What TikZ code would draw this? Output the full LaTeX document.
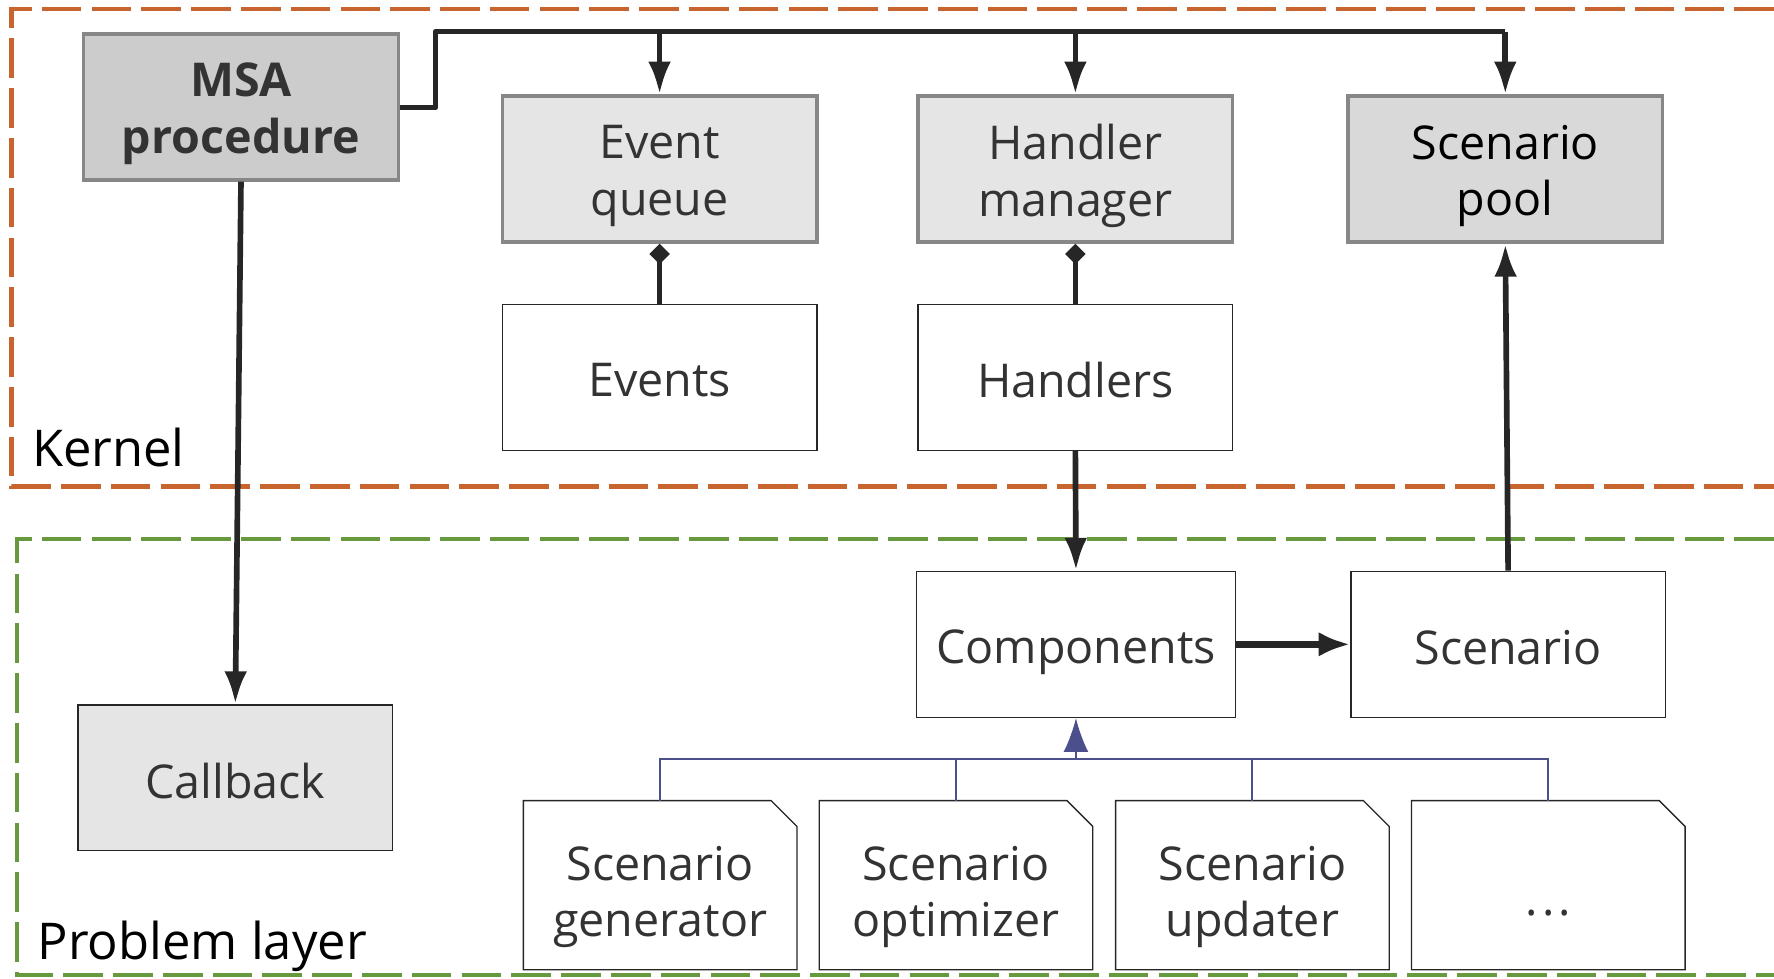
\documentclass[tikz,border=0pt]{standalone}
\usepackage{fontspec}
\setmainfont{Open Sans}
\usetikzlibrary{arrows.meta}
\definecolor{kern}{HTML}{C8652F}
\definecolor{prob}{HTML}{67993F}
\definecolor{inh}{HTML}{4B4F8C}
\definecolor{ink}{HTML}{262626}
\definecolor{txt}{HTML}{333333}
\tikzset{
  boxbase/.style={rectangle, minimum width=139pt, minimum height=64.5pt, inner sep=0pt},
  graybox/.style={boxbase, draw=black!47, line width=1.5pt},
  plainbox/.style={boxbase, draw=ink, line width=0.6pt, fill=white},
  docbox/.style={boxbase, minimum width=120.5pt, minimum height=74.3pt},
  txtlbl/.style={font=\fontsize{20.6}{25}\selectfont, text=txt, align=center, inner sep=0pt, yshift=-1.25pt},
  twolbl/.style={txtlbl, yshift=-1.75pt},
  doclbl/.style={txtlbl, yshift=-4pt},
  conn/.style={draw=ink, line width=2.5pt},
  tip/.style={-{Latex[length=14.5pt,width=10pt]}},
  dia/.style={{Diamond[length=9pt,width=9pt]}-},
  frame/.style={line width=2pt, dash pattern=on 17.5pt off 4.5pt},
  lbl/.style={font=\fontsize{22.4}{26}\selectfont, text=black, anchor=base west, inner sep=0pt}
}
\begin{document}
\begin{tikzpicture}[x=0.5pt,y=-0.5pt]
\useasboundingbox (0,0) rectangle (1568,865.3);
% frames
\draw[frame, kern] (1700,8) -- (10,8) -- (10,430) -- (1700,430);
\draw[frame, prob, line width=1.75pt] (1700,476) -- (15,476) -- (15,862) -- (1700,862);
\node[lbl] (kl) at (28,412) {Kernel};
\node[lbl] (pl) at (33,848) {Problem layer};
% kernel boxes
\node[graybox, fill=black!20, label={[twolbl, font=\fontsize{20.6}{25}\selectfont\bfseries]center:{MSA\\procedure}}] (msa) at (213,94.5) {};
\node[graybox, fill=black!10, label={[twolbl]center:{Event\\queue}}] (eq) at (583,149.5) {};
\node[graybox, fill=black!10, label={[twolbl]center:{Handler\\manager}}] (hm) at (950.5,149.5) {};
\node[graybox, fill=black!15, label={[twolbl, text=black]center:{Scenario\\pool}}] (sp) at (1330.5,149.5) {};
\node[plainbox, label={[txtlbl]center:{Events}}] (ev) at (583,333.5) {};
\node[plainbox, label={[txtlbl]center:{Handlers}}] (hd) at (950.5,333.5) {};
% problem layer boxes
\node[plainbox, minimum width=141pt, label={[txtlbl, yshift=-2.4pt]center:{Components}}] (cp) at (951,569.5) {};
\node[plainbox, label={[txtlbl]center:{Scenario}}] (sc) at (1333,569.5) {};
\node[plainbox, fill=black!10, label={[txtlbl]center:{Callback}}] (cb) at (208,687.5) {};
\node[docbox, label={[doclbl]center:{Scenario\\generator}}] (d1) at (583.5,782.4) {};
\node[docbox, label={[doclbl]center:{Scenario\\optimizer}}] (d2) at (845,782.4) {};
\node[docbox, label={[doclbl]center:{Scenario\\updater}}] (d3) at (1107,782.4) {};
\node[docbox, label={[txtlbl, yshift=-5pt]center:{\vphantom{E}.\kern1.8pt.\kern1.8pt.}}] (d4) at (1368.5,782.4) {};
\foreach \d in {d1,d2,d3,d4}{
  \draw[ink, line width=0.6pt] (\d.north west) -- ([xshift=-11.4pt]\d.north east)
    -- ([yshift=-11.4pt]\d.north east) -- (\d.south east) -- (\d.south west) -- cycle;
}
% bus from MSA
\coordinate (b0) at (385,95);
\coordinate (b1) at (385,28);
\coordinate (b2) at (1330.5,28);
\draw[conn, line join=round] (msa.east |- b0) -- (b0) -- (b1) -- (b2);
\draw[conn, tip] (eq.north |- b1) -- (eq.north);
\draw[conn, tip] (hm.north |- b1) -- (hm.north);
\draw[conn, tip] (b2) -- (sp.north);
% other connectors
\draw[conn, tip] (msa.south) -- (cb.north);
\draw[conn, dia] (eq.south) -- (ev.north);
\draw[conn, dia] (hm.south) -- (hd.north);
\draw[conn, tip] (hd.south) -- (cp.north);
\draw[conn, tip] (sc.north) -- (sp.south);
\draw[conn, line width=3pt, -{Latex[length=14pt,width=11pt]}] (cp.east) -- (sc.west);
% inheritance tree
\coordinate (tj) at (951,671);
\draw[inh, line width=0.9pt] (d1.north) -- (d1.north |- tj) -- (d4.north |- tj) -- (d4.north);
\draw[inh, line width=0.9pt] (d2.north) -- (d2.north |- tj);
\draw[inh, line width=0.9pt] (d3.north) -- (d3.north |- tj);
\draw[inh, line width=0.9pt, -{Latex[length=15pt,width=11pt]}] (tj) -- (cp.south);
\end{tikzpicture}
\end{document}
